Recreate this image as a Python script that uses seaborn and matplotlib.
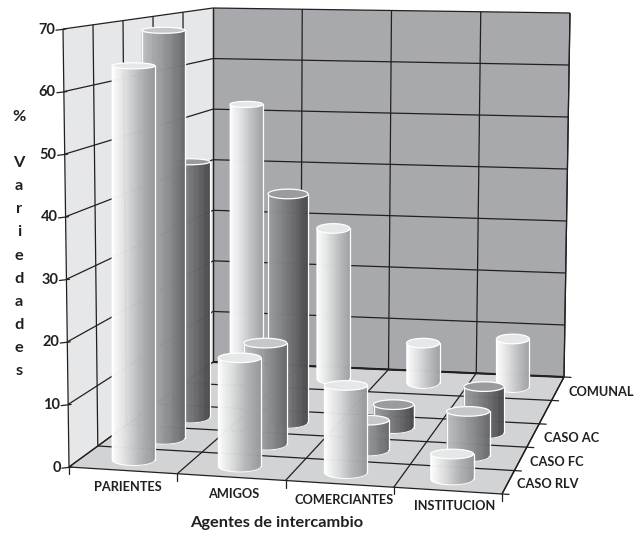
import matplotlib
matplotlib.use("Agg")
import matplotlib.pyplot as plt
from matplotlib.collections import PolyCollection
from matplotlib.patches import Polygon
import numpy as np
import pandas as pd
import seaborn as sns

# Survey data: share of varieties by exchange agent and case
agents = ["PARIENTES", "AMIGOS", "COMERCIANTES", "INSTITUCION"]
cases = ["CASO RLV", "CASO FC", "CASO AC", "COMUNAL"]
caso_rlv = [64, 17.5, 14, 4]
caso_fc = [69, 17, 5, 7.4]
caso_ac = [45, 40, 4, 8]
comunal = [52, 28.7, 7.5, 9]
z_ticks = [0, 10, 20, 30, 40, 50, 60, 70]

table = pd.DataFrame({"CASO RLV": caso_rlv, "CASO FC": caso_fc,
                      "CASO AC": caso_ac, "COMUNAL": comunal}, index=agents)
long_table = table.reset_index(names="agent").melt(id_vars="agent", var_name="case", value_name="pct")

# Slots along the depth axis: one slot stays empty before COMUNAL
case_slot = {"CASO RLV": 0.5, "CASO FC": 1.5, "CASO AC": 2.5, "COMUNAL": 4.5}
X_SPAN, Y_SPAN, Z_SPAN = 4.0, 5.0, 70.0

W, H = 634, 533
sns.set_theme(style="white", font="Lato")

# Box corners on the canvas: (x, y) bottom then top, front-left going round
floor = np.array([[69, 467], [502, 494], [564, 377], [213, 362]], float)
ceiling = np.array([[63, 29], [512, 46], [570, 13], [213, 8]], float)


def project(x, y, z):
    """Trilinear map from chart coordinates to canvas coordinates."""
    u, v, w = np.asarray(x, float) / X_SPAN, np.asarray(y, float) / Y_SPAN, np.asarray(z, float) / Z_SPAN

    def corner(pts):
        front = pts[0] + (pts[1] - pts[0]) * u[..., None]
        back = pts[3] + (pts[2] - pts[3]) * u[..., None]
        return front + (back - front) * v[..., None]

    lo, hi = corner(floor), corner(ceiling)
    return lo + (hi - lo) * w[..., None]


fig = plt.figure(figsize=(W / 100, H / 100), dpi=100)
ax = fig.add_axes([0, 0, 1, 1])
ax.set_xlim(0, W)
ax.set_ylim(H, 0)
ax.axis("off")


def corners(*pts):
    return project(*np.array(pts, float).T)


# Walls and floor
ax.add_patch(Polygon(corners((0, 5, 0), (4, 5, 0), (4, 5, 70), (0, 5, 70)), fc="#a7a9ac", ec="none", zorder=1))
ax.add_patch(Polygon(corners((0, 0, 0), (0, 5, 0), (0, 5, 70), (0, 0, 70)), fc="#e6e7e8", ec="none", zorder=1))
ax.add_patch(Polygon(corners((0, 0, 0), (4, 0, 0), (4, 5, 0), (0, 5, 0)), fc="#d1d3d4", ec="none", zorder=1))


def rule(p, q, lw=0.9):
    pts = corners(p, q)
    ax.plot(pts[:, 0], pts[:, 1], color="#231f20", lw=lw, solid_capstyle="butt", zorder=2)


# Grid on the two walls and the floor
for z in z_ticks:
    rule((0, 0, z), (0, 5, z))
    rule((0, 5, z), (4, 5, z))
for i in range(5):
    rule((i, 5, 0), (i, 5, 70))
    rule((i, 0, 0), (i, 5, 0))
for j in range(6):
    rule((0, j, 0), (0, j, 70))
    rule((0, j, 0), (4, j, 0))
rule((4, 5, 0), (4, 5, 70))
rule((4, 0, 0), (4, 5, 0), lw=1.0)
rule((0, 5, 0), (4, 5, 0), lw=1.5)

# Tick marks
for z in z_ticks:
    p = project(0.0, 0.0, z)
    ax.plot([p[0] - 7, p[0] + 3], [p[1] + 1.2, p[1]], color="#231f20", lw=0.9, zorder=2)
for i in range(5):
    p = project(i, 0.0, 0.0)
    ax.plot([p[0], p[0]], [p[1], p[1] + 7], color="#231f20", lw=0.9, zorder=2)
for j in range(6):
    p = project(4.0, j, 0.0)
    ax.plot([p[0], p[0] + 7], [p[1], p[1] + 0.4], color="#231f20", lw=0.9, zorder=2)

# Per-case styling: full width on canvas, side gradient stops, cap colour
bar_width = {"CASO RLV": 43, "CASO FC": 43, "CASO AC": 40, "COMUNAL": 33}
side_stops = {
    "CASO RLV": ["#ffffff", "#dcddde", "#b4b5b7", "#98999b"],
    "CASO FC": ["#bfc0c2", "#a4a5a7", "#88898b", "#6a6b6d"],
    "CASO AC": ["#9d9ea0", "#848587", "#69696b", "#4a4a4c"],
    "COMUNAL": ["#ffffff", "#e2e3e4", "#c0c1c3", "#a2a3a5"],
}
cap_colour = {"CASO RLV": "#e6e7e8", "CASO FC": "#c6c7c9", "CASO AC": "#9a9b9e", "COMUNAL": "#e6e7e8"}
cap_half = {"PARIENTES": 3.0, "AMIGOS": 4.8, "COMERCIANTES": 4.8, "INSTITUCION": 4.8}
# Sideways canvas nudges for bars that sit slightly off their slot
case_nudge = {"CASO RLV": -3.0}
bar_nudge = {("CASO AC", "COMERCIANTES"): 7.5, ("COMUNAL", "PARIENTES"): 3.0, ("CASO FC", "INSTITUCION"): -1.5}
BASE_HALF = 5.8
STRIPS = 48

z_layer = 3
for case in reversed(cases):
    rows = long_table[long_table["case"] == case]
    palette = sns.blend_palette(side_stops[case], STRIPS)
    half_w = bar_width[case] / 2
    for agent_index, agent in enumerate(agents):
        pct = float(rows.loc[rows["agent"] == agent, "pct"].iloc[0])
        y = case_slot[case]
        x = agent_index + 0.5
        base = project(x, y, 0.0)
        top = project(x, y, pct)
        # Bars stand upright on the canvas
        cx = base[0] + case_nudge.get(case, 0.0) + bar_nudge.get((case, agent), 0.0)
        h_top = cap_half[agent]

        # Side wall as thin strips, shaded left to right
        t = np.linspace(0, 1, STRIPS + 1)
        cos_a = 2 * t - 1
        sin_a = np.sqrt(1 - cos_a ** 2)
        bx = cx + half_w * cos_a
        by = base[1] + BASE_HALF * sin_a
        ty = top[1] + h_top * sin_a
        strips = [[(bx[k], by[k]), (bx[k + 1], by[k + 1]), (bx[k + 1], ty[k + 1]), (bx[k], ty[k])]
                  for k in range(STRIPS)]
        ax.add_collection(PolyCollection(strips, facecolors=palette, edgecolors=palette,
                                         linewidths=0.4, zorder=z_layer))
        # White rim along both sides and the foot
        ax.plot([bx[0], bx[0]], [by[0], ty[0]], color="white", lw=0.9, zorder=z_layer + 0.1)
        ax.plot([bx[-1], bx[-1]], [by[-1], ty[-1]], color="white", lw=0.9, zorder=z_layer + 0.1)
        ax.plot(bx, by, color="white", lw=0.7, zorder=z_layer + 0.1)

        # Top cap
        angle = np.linspace(0, 2 * np.pi, 80)
        cap = np.column_stack([cx + half_w * np.cos(angle), top[1] + h_top * np.sin(angle)])
        ax.add_patch(Polygon(cap, fc=cap_colour[case], ec="white", lw=0.9, zorder=z_layer + 0.2))
        z_layer += 1

INK = "#231f20"
TOP = 1000
text_kw = dict(color=INK, family="Lato", zorder=TOP)

# Axis tick labels
for z in z_ticks:
    p = project(0.0, 0.0, z)
    ax.text(p[0] - 8, p[1] + 0.5, str(z), ha="right", va="center", fontsize=10.5, weight="bold", **text_kw)
agent_label_xy = [(128, 487), (234, 494), (344, 500), (455, 506)]
for label, (px, py) in zip(agents, agent_label_xy):
    ax.text(px, py, label, ha="center", va="center", fontsize=9.2, weight="bold", **text_kw)
case_label_xy = {"COMUNAL": (601, 392), "CASO AC": (571.5, 438), "CASO FC": (557, 462), "CASO RLV": (548, 484)}
for label, (px, py) in case_label_xy.items():
    ax.text(px, py, label, ha="center", va="center", fontsize=9.2, weight="bold", **text_kw)

# Axis titles
ax.text(277, 523, "Agentes de intercambio", ha="center", va="center", fontsize=11.8, weight="bold", **text_kw)
ax.text(19, 244, "%\n\nV\na\nr\ni\ne\nd\na\nd\ne\ns", ha="center", va="center", fontsize=11.8,
        weight="bold", linespacing=1.83, **text_kw)

fig.savefig("out.png", dpi=100)
